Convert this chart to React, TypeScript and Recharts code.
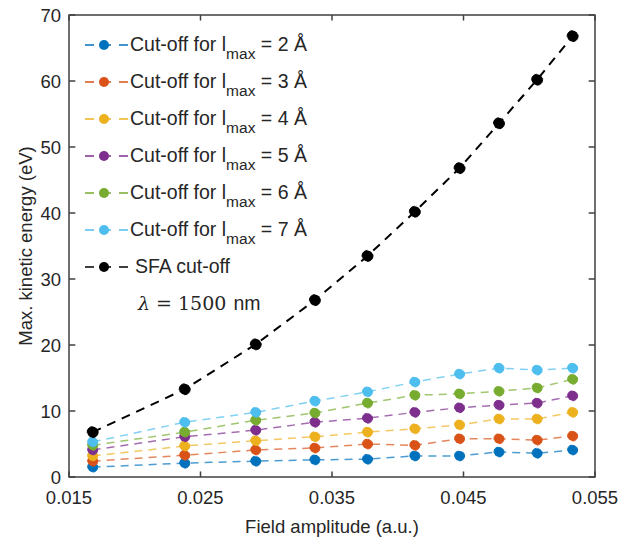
import React from 'react';
import { LineChart, Line, XAxis, YAxis, Legend, ReferenceArea, ReferenceLine } from 'recharts';

const fieldAmp = [0.0168, 0.0238, 0.0292, 0.0337, 0.0377, 0.0413, 0.0447, 0.0477, 0.0506, 0.0533];

// max. kinetic energy (eV) per cut-off radius
const cut2 = [1.5, 2.1, 2.4, 2.6, 2.7, 3.2, 3.2, 3.8, 3.6, 4.1];
const cut3 = [2.4, 3.3, 4.1, 4.4, 5.0, 4.8, 5.8, 5.8, 5.6, 6.2];
const cut4 = [3.2, 4.7, 5.5, 6.1, 6.8, 7.3, 7.9, 8.8, 8.8, 9.8];
const cut5 = [4.1, 6.1, 7.1, 8.3, 8.9, 9.8, 10.5, 10.9, 11.2, 12.3];
const cut6 = [4.8, 6.8, 8.6, 9.7, 11.2, 12.4, 12.6, 13.0, 13.5, 14.8];
const cut7 = [5.3, 8.3, 9.8, 11.5, 12.9, 14.4, 15.6, 16.5, 16.2, 16.5];
const sfaCut = [6.8, 13.3, 20.1, 26.8, 33.5, 40.2, 46.8, 53.6, 60.2, 66.8];

const xTicks = [0.015, 0.025, 0.035, 0.045, 0.055];
const yTicks = [0, 10, 20, 30, 40, 50, 60, 70];

const X_MIN = 0.015;
const X_MAX = 0.055;
const Y_MIN = 0;
const Y_MAX = 70;

const series = [
  { key: 'l2', label: '2', color: '#0072BD', values: cut2 },
  { key: 'l3', label: '3', color: '#D95319', values: cut3 },
  { key: 'l4', label: '4', color: '#EDB120', values: cut4 },
  { key: 'l5', label: '5', color: '#7E2F8E', values: cut5 },
  { key: 'l6', label: '6', color: '#77AC30', values: cut6 },
  { key: 'l7', label: '7', color: '#4DBEEE', values: cut7 },
];

const data = fieldAmp.map((x, i) => {
  const row: Record<string, number> = { x, sfa: sfaCut[i] };
  series.forEach((s) => {
    row[s.key] = s.values[i];
  });
  return row;
});

const FONT = '"Liberation Sans", Arial, sans-serif';
const INK = '#262626';
const AXIS = '#404040';

// inward tick length, in data units (~6px at this plot size)
const TICK_X = (X_MAX - X_MIN) * 0.012;
const TICK_Y = (Y_MAX - Y_MIN) * 0.012;

function LegendMark({ color, dash }: { color: string; dash: string }) {
  return (
    <svg width={45} height={20} style={{ display: 'block', flex: 'none' }}>
      <line x1={0} y1={10} x2={43} y2={10} stroke={color} strokeWidth={1.5} strokeDasharray={dash} />
      <circle cx={19} cy={10} r={5} fill={color} />
    </svg>
  );
}

function ChartLegend() {
  const row: React.CSSProperties = { display: 'flex', alignItems: 'center', height: 37 };
  return (
    <div style={{ fontFamily: FONT, fontSize: 19.5, color: INK, lineHeight: 1 }}>
      {series.map((s) => (
        <div key={s.key} style={row}>
          <LegendMark color={s.color} dash="9 8" />
          <span style={{ whiteSpace: 'nowrap' }}>
            Cut-off for l
            <span style={{ fontSize: 15.5, position: 'relative', top: 8 }}>max</span> = {s.label} Å
          </span>
        </div>
      ))}
      <div style={row}>
        <LegendMark color="#000" dash="9 8" />
        <span style={{ marginLeft: 5 }}>SFA cut-off</span>
      </div>
      <div style={{ ...row, paddingLeft: 53 }}>
        <span style={{ fontFamily: '"DejaVu Serif", serif', fontStyle: 'italic', fontSize: 19 }}>λ</span>
        <span style={{ fontFamily: '"DejaVu Serif", serif', fontSize: 19, marginLeft: 6 }}>= 1500</span>
        <span style={{ marginLeft: 7 }}>nm</span>
      </div>
    </div>
  );
}

export default function App() {
  return (
    <div style={{ position: 'absolute', left: 0, top: 0, width: 632, height: 542, background: '#fff' }}>
      <LineChart
        width={632}
        height={542}
        data={data}
        margin={{ top: 15, right: 37, bottom: 5, left: 9 }}
      >
        <XAxis
          dataKey="x"
          type="number"
          domain={[X_MIN, X_MAX]}
          ticks={xTicks}
          tickFormatter={(v: number) => v.toFixed(3)}
          height={60}
          axisLine={false}
          tickLine={false}
          tickSize={0}
          tickMargin={14}
          tick={{ fill: INK, fontSize: 18.5, fontFamily: FONT }}
          label={(p: any) => {
            const vb = p.viewBox;
            return (
              <text x={vb.x + vb.width / 2} y={vb.y + 56} textAnchor="middle" fill={INK} fontSize={18.5} fontFamily={FONT}>
                Field amplitude (a.u.)
              </text>
            );
          }}
        />
        <YAxis
          type="number"
          domain={[Y_MIN, Y_MAX]}
          ticks={yTicks}
          width={60}
          axisLine={false}
          tickLine={false}
          tickSize={0}
          tickMargin={8}
          tick={{ fill: INK, fontSize: 18.5, fontFamily: FONT }}
          label={(p: any) => {
            const vb = p.viewBox;
            const cx = vb.x + 16;
            const cy = vb.y + vb.height / 2;
            return (
              <text x={cx} y={cy} textAnchor="middle" dominantBaseline="central" transform={`rotate(-90 ${cx} ${cy})`} fill={INK} fontSize={18.5} fontFamily={FONT}>
                Max. kinetic energy (eV)
              </text>
            );
          }}
        />
        {/* inward ticks on all four sides, MATLAB style */}
        {xTicks.map((t) => (
          <ReferenceLine key={`xb${t}`} segment={[{ x: t, y: Y_MIN }, { x: t, y: Y_MIN + TICK_Y }]} stroke={AXIS} strokeWidth={1.5} />
        ))}
        {xTicks.map((t) => (
          <ReferenceLine key={`xt${t}`} segment={[{ x: t, y: Y_MAX }, { x: t, y: Y_MAX - TICK_Y }]} stroke={AXIS} strokeWidth={1.5} />
        ))}
        {yTicks.map((t) => (
          <ReferenceLine key={`yl${t}`} segment={[{ x: X_MIN, y: t }, { x: X_MIN + TICK_X, y: t }]} stroke={AXIS} strokeWidth={1.5} />
        ))}
        {yTicks.map((t) => (
          <ReferenceLine key={`yr${t}`} segment={[{ x: X_MAX, y: t }, { x: X_MAX - TICK_X, y: t }]} stroke={AXIS} strokeWidth={1.5} />
        ))}
        {series.map((s) => (
          <Line
            key={s.key}
            dataKey={s.key}
            stroke={s.color}
            strokeOpacity={0.7}
            strokeWidth={1.5}
            strokeDasharray="8 6"
            dot={{ r: 5, fill: s.color, stroke: s.color, strokeWidth: 1, strokeOpacity: 1 }}
            isAnimationActive={false}
          />
        ))}
        <Line
          dataKey="sfa"
          stroke="#000"
          strokeWidth={2}
          strokeDasharray="9 7"
          dot={{ r: 5.5, fill: '#000', stroke: '#000', strokeWidth: 1 }}
          isAnimationActive={false}
        />
        {/* box frame */}
        <ReferenceArea x1={X_MIN} x2={X_MAX} y1={Y_MIN} y2={Y_MAX} fill="none" stroke={AXIS} strokeWidth={1.5} />
        <Legend
          layout="vertical"
          align="center"
          verticalAlign="middle"
          content={() => <ChartLegend />}
          wrapperStyle={{ left: 85, top: 26, width: 300 }}
        />
      </LineChart>
    </div>
  );
}
